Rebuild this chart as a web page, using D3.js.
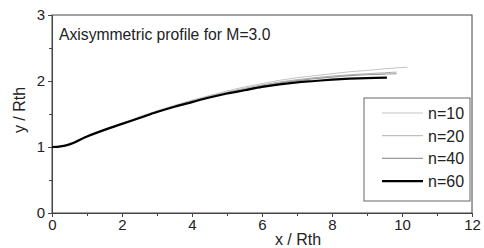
<!DOCTYPE html>
<html lang="en">
  <head>
    <meta charset="UTF-8" />
    <title>Axisymmetric profile</title>
    <script src="https://d3js.org/d3.v7.min.js"></script>
    <style>
      body {
        margin: 0;
        background-color: #fff;
        font-family: "Liberation Sans", Arial, sans-serif;
      }
      .axis text {
        font-size: 15px;
        fill: #222;
      }
    </style>
  </head>
  <body>
    <div id="chart"></div>
    <script>
      // series
      const seriesNames = ["n=10", "n=20", "n=40", "n=60"];
      const n10 = [[0,1],[0.25,1.01],[0.5,1.04],[1,1.16],[1.5,1.27],[2,1.36],[2.5,1.46],[3,1.55],[3.5,1.63],[4,1.71],[4.5,1.78],[5,1.85],[5.5,1.91],[6,1.96],[6.5,2.01],[7,2.05],[7.5,2.08],[8,2.11],[8.5,2.14],[9,2.16],[9.5,2.185],[10.16,2.21]];
      const n20 = [[0,1],[0.25,1.01],[0.5,1.04],[1,1.16],[1.5,1.265],[2,1.355],[2.5,1.45],[3,1.54],[3.5,1.62],[4,1.70],[4.5,1.77],[5,1.83],[5.5,1.89],[6,1.94],[6.5,1.985],[7,2.02],[7.5,2.05],[8,2.075],[8.5,2.095],[9,2.11],[9.5,2.125],[9.85,2.135]];
      const n40 = [[0,1],[0.25,1.01],[0.5,1.04],[1,1.16],[1.5,1.26],[2,1.35],[2.5,1.445],[3,1.535],[3.5,1.615],[4,1.69],[4.5,1.76],[5,1.82],[5.5,1.875],[6,1.925],[6.5,1.97],[7,2.005],[7.5,2.035],[8,2.06],[8.5,2.08],[9,2.095],[9.5,2.105],[9.85,2.11]];
      const n60 = [[0,1],[0.25,1.01],[0.5,1.04],[1,1.16],[1.5,1.26],[2,1.35],[2.5,1.44],[3,1.53],[3.5,1.61],[4,1.68],[4.5,1.75],[5,1.81],[5.5,1.86],[6,1.91],[6.5,1.95],[7,1.98],[7.5,2.0],[8,2.02],[8.5,2.035],[9,2.045],[9.57,2.05]];
      const seriesData = [n10, n20, n40, n60];
      const seriesColors = ["#c4c4c4", "#b0b0b0", "#9a9a9a", "#000"];
      const seriesWidths = [1, 1, 1.2, 2.2];
      const xTicks = [0, 2, 4, 6, 8, 10, 12];
      const yTicks = [0, 1, 2, 3];

      const width = 484;
      const height = 248;
      const margin = { top: 15, right: 12, bottom: 35, left: 52 };
      const innerW = width - margin.left - margin.right;
      const innerH = height - margin.top - margin.bottom;

      const svg = d3
        .select("#chart")
        .append("svg")
        .attr("width", width)
        .attr("height", height);

      const g = svg
        .append("g")
        .attr("transform", `translate(${margin.left},${margin.top})`);

      const x = d3.scaleLinear().domain([0, 12]).range([0, innerW]);
      const y = d3.scaleLinear().domain([0, 3]).range([innerH, 0]);

      // frame
      g.append("rect")
        .attr("width", innerW)
        .attr("height", innerH)
        .attr("fill", "none")
        .attr("stroke", "#444")
        .attr("stroke-width", 1);

      // minor ticks
      g.append("g")
        .attr("transform", `translate(0,${innerH})`)
        .call(d3.axisBottom(x).ticks(12).tickSize(3).tickFormat(""))
        .call((a) => a.select(".domain").remove())
        .call((a) => a.selectAll("line").attr("stroke", "#444"));
      g.append("g")
        .call(d3.axisLeft(y).ticks(6).tickSize(3).tickFormat(""))
        .call((a) => a.select(".domain").remove())
        .call((a) => a.selectAll("line").attr("stroke", "#444"));

      // major ticks
      const fmt = d3.format("d");
      const xAxis = g
        .append("g")
        .attr("class", "axis")
        .attr("transform", `translate(0,${innerH})`)
        .call(d3.axisBottom(x).tickValues(xTicks).tickFormat(fmt).tickSize(4).tickPadding(2));
      const yAxis = g
        .append("g")
        .attr("class", "axis")
        .call(d3.axisLeft(y).tickValues(yTicks).tickFormat(fmt).tickSize(4).tickPadding(3));
      [xAxis, yAxis].forEach((a) => {
        a.select(".domain").attr("stroke", "#444");
        a.selectAll("line").attr("stroke", "#444");
      });

      // axis titles
      svg.append("text")
        .attr("x", 298)
        .attr("y", 245)
        .attr("text-anchor", "middle")
        .attr("font-size", 16)
        .attr("fill", "#222")
        .text("x / Rth");
      svg.append("text")
        .attr("transform", `translate(25,110) rotate(-90)`)
        .attr("text-anchor", "middle")
        .attr("font-size", 16)
        .attr("fill", "#222")
        .text("y / Rth");

      // title in the plot
      g.append("text")
        .attr("x", 7)
        .attr("y", 25)
        .attr("font-size", 15.7)
        .attr("fill", "#222")
        .text("Axisymmetric profile for M=3.0");

      // curves
      const line = d3
        .line()
        .x((d) => x(d[0]))
        .y((d) => y(d[1]))
        .curve(d3.curveMonotoneX);

      seriesData.forEach((data, i) => {
        g.append("path")
          .datum(data)
          .attr("fill", "none")
          .attr("stroke", seriesColors[i])
          .attr("stroke-width", seriesWidths[i])
          .attr("d", line);
      });

      // legend
      const legend = g.append("g").attr("transform", "translate(312,83)");
      legend
        .append("rect")
        .attr("width", 106)
        .attr("height", 103)
        .attr("fill", "#fff")
        .attr("stroke", "#666");
      seriesNames.forEach((name, i) => {
        const ly = 15 + i * 22.7;
        legend.append("line")
          .attr("x1", 18)
          .attr("x2", 59)
          .attr("y1", ly)
          .attr("y2", ly)
          .attr("stroke", seriesColors[i])
          .attr("stroke-width", seriesWidths[i]);
        legend.append("text")
          .attr("x", 64)
          .attr("y", ly + 6)
          .attr("font-size", 16)
          .attr("fill", "#222")
          .text(name);
      });
    </script>
  </body>
</html>
